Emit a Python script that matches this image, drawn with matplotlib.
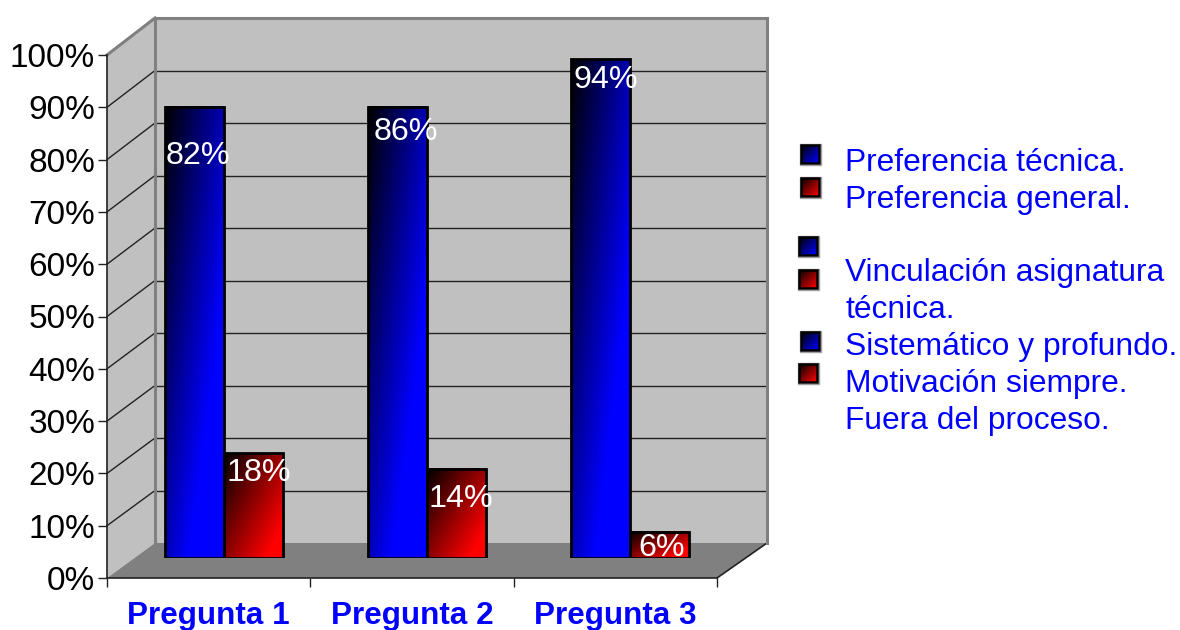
import numpy as np
import matplotlib
matplotlib.use('Agg')
import matplotlib.pyplot as plt
from matplotlib.patches import Polygon, Rectangle

plt.rcParams['font.family'] = ['Liberation Sans', 'DejaVu Sans']

# Datos (las alturas no coinciden del todo con las etiquetas)
categories = ['Pregunta 1', 'Pregunta 2', 'Pregunta 3']
blue_heights = [86, 86, 95]
red_heights = [20, 17, 5]
blue_labels = ['82%', '86%', '94%']
red_labels = ['18%', '14%', '6%']
ticks = [0, 10, 20, 30, 40, 50, 60, 70, 80, 90, 100]
legend_texts = ['Preferencia técnica.', 'Preferencia general.', 'Vinculación asignatura',
                'técnica.', 'Sistemático y profundo.', 'Motivación siempre.', 'Fuera del proceso.']

W, H = 1180, 630
GRID = '#222222'
WALL_EDGE = '#808080'


def axes_px(x0, y0, x1, y1):
    # ejes colocados en pixeles de la imagen (y hacia abajo)
    ax = fig.add_axes([x0 / W, 1 - y1 / H, (x1 - x0) / W, (y1 - y0) / H])
    ax.patch.set_alpha(0)
    return ax


def gradient(color, kx, ky):
    # degradado de negro (arriba izq.) al color (abajo der.)
    v, u = np.mgrid[0:1:100j, 0:1:100j]
    t = np.clip(kx * u + ky * v, 0, 1)[..., None]
    return t * np.array(color)


def grad_bar(ax, x, w, h, color, kx, ky):
    ax.imshow(gradient(color, kx, ky), extent=[x, x + w, 0, h], origin='upper',
              aspect='auto', interpolation='bilinear', zorder=2)
    ax.add_patch(Rectangle((x, 0), w, h, fill=False, ec='black', lw=2, zorder=3))


fig = plt.figure(figsize=(W / 100, H / 100), dpi=100, facecolor='white')

# Fondo en pixeles: pared lateral y suelo
bg = axes_px(0, 0, W, H)
bg.set_xlim(0, W)
bg.set_ylim(H, 0)
bg.axis('off')
bg.add_patch(Polygon([(107, 55), (155, 18), (155, 543), (107, 578)], fc='#c0c0c0', ec='none'))
bg.add_patch(Polygon([(107, 578), (155, 543), (767, 543), (717, 578)], fc='#808080', ec='none'))
bg.plot([107, 155], [55, 18], color=WALL_EDGE, lw=2.2)
for t in ticks[1:-1]:
    bg.plot([107, 155], [578 - 5.23 * t, 543 - 5.25 * t], color=GRID, lw=1)
bg.plot([717, 767], [578, 543], color=GRID, lw=1.2)

# Pared del fondo
back = axes_px(155, 18, 767, 543)
back.patch.set_alpha(1)
back.set_facecolor('#c0c0c0')
back.set_xlim(0, 1)
back.set_ylim(0, 100)
back.set_xticks([])
back.set_yticks(ticks[1:-1])
back.tick_params(left=False, labelleft=False)
back.grid(axis='y', color=GRID, lw=1)
back.set_axisbelow(True)
back.spines['bottom'].set_visible(False)
for s in ['top', 'left', 'right']:
    back.spines[s].set_color(WALL_EDGE)
    back.spines[s].set_linewidth(2.2)

# Plano frontal: ejes y etiquetas
front = axes_px(107, 55, 717, 578)
front.set_xlim(0, 3)
front.set_ylim(0, 100)
front.set_yticks(ticks)
front.set_yticklabels([f'{t}%' for t in ticks], fontsize=24, color='black')
front.set_xticks([0, 1, 2, 3])
front.set_xticklabels([])
front.set_xticks([0.5, 1.5, 2.5], minor=True)
front.set_xticklabels(categories, minor=True, fontsize=22.6, fontweight='bold', color='#0000ff')
front.tick_params(axis='x', which='minor', length=0, pad=16.5)
front.tick_params(axis='x', which='major', length=6.5, width=1, color=GRID)
front.tick_params(axis='y', length=6.5, width=1, color=GRID, pad=2)
for s in ['top', 'right']:
    front.spines[s].set_visible(False)
for s in ['left', 'bottom']:
    front.spines[s].set_color(GRID)
    front.spines[s].set_linewidth(1.2)

# Barras con degradado
bars = axes_px(122.5, 33, 731.5, 558)
bars.axis('off')
width = 0.29
for i in range(len(categories)):
    grad_bar(bars, i - width, width, blue_heights[i], (0, 0, 1), 0.7, 0.72)
    grad_bar(bars, i, width, red_heights[i], (1, 0, 0), 0.62, 0.55)
bars.set_xlim(-0.5, 2.5)
bars.set_ylim(0, 100)

# Etiquetas de datos: desplazamiento en pixeles respecto a la cima de cada barra
blue_offsets = [(3, -49), (8, -26), (5, -21)]
red_offsets = [(5, -20), (4, -30), (2, -16)]
for i in range(len(categories)):
    bars.annotate(blue_labels[i], (i - width / 2, blue_heights[i]), xytext=blue_offsets[i],
                  textcoords='offset pixels', ha='center', va='center', color='white', fontsize=23.2, zorder=5)
    bars.annotate(red_labels[i], (i + width / 2, red_heights[i]), xytext=red_offsets[i],
                  textcoords='offset pixels', ha='center', va='center', color='white', fontsize=23.2, zorder=5)

# Leyenda manual
leg = axes_px(0, 0, W, H)
leg.axis('off')
swatches = [(800, 144, (0, 0, 1)), (800, 177, (1, 0, 0)), (798, 236, (0, 0, 1)),
            (798, 269, (1, 0, 0)), (800, 331, (0, 0, 1)), (798, 363, (1, 0, 0))]
for x, y, c in swatches:
    leg.add_patch(Rectangle((x - 0.5, y - 0.5), 21, 21, fc='none', ec='#a0a0a0', lw=1))
    leg.imshow(gradient(c, 0.5, 0.5), extent=[x + 1, x + 19, y + 19, y + 1], origin='upper',
               aspect='auto', interpolation='bilinear')
    leg.add_patch(Rectangle((x + 1, y + 1), 18, 18, fill=False, ec='black', lw=1.8))
leg.set_xlim(0, W)
leg.set_ylim(H, 0)
for txt, y in zip(legend_texts, [163, 200, 273, 310, 347, 384, 421]):
    leg.text(845, y, txt, fontsize=22.9, color='#0000ff', ha='left', va='center')

fig.savefig('out.png', dpi=100)
